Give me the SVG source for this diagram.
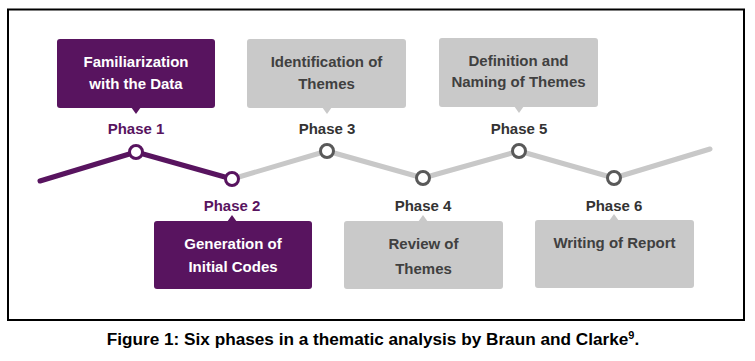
<svg xmlns="http://www.w3.org/2000/svg" width="755" height="361" viewBox="0 0 755 361">
<style>
.t{font-family:"Liberation Sans",Arial,sans-serif;font-weight:bold;font-size:15px;text-anchor:middle}
.cap{font-size:17.2px}
.pb{fill:#58145f}
.gb{fill:#c9c9c9}
.wt{fill:#ffffff}
.gt{fill:#404040}
.pl{fill:#58145f}
.dl{fill:#333333}
.pc{fill:#ffffff;stroke:#58145f;stroke-width:3}
.gc{fill:#ffffff;stroke:#595959;stroke-width:3}
.lp{fill:none;stroke:#58145f;stroke-width:5;stroke-linecap:round;stroke-linejoin:round}
.lg{fill:none;stroke:#c8c8c8;stroke-width:5;stroke-linecap:round;stroke-linejoin:round}
</style>
<rect x="0" y="0" width="755" height="361" fill="#ffffff"/>
<rect x="8" y="9.5" width="736" height="310.5" fill="none" stroke="#000000" stroke-width="2"/>
<g id="connectors">
<polyline class="lg" points="232,179 327,151 423,178 519,151 614,178 710,149"/>
<polyline class="lp" points="40,181 136,152 232,179"/>
</g>
<g id="phase1">
<rect class="pb" x="57" y="39" width="158" height="69" rx="3"/>
<polygon class="pb" points="131,107 141,107 136,114"/>
<text class="t wt" x="136" y="67">Familiarization</text>
<text class="t wt" x="136" y="89">with the Data</text>
<text class="t pl" x="136" y="133.5">Phase 1</text>
<circle class="pc" cx="136" cy="152" r="6.5"/>
</g>
<g id="phase2">
<rect class="pb" x="154" y="221" width="158" height="68" rx="3"/>
<polygon class="pb" points="227,222 237,222 232,215"/>
<text class="t wt" x="233" y="248.5">Generation of</text>
<text class="t wt" x="233" y="271.5">Initial Codes</text>
<text class="t pl" x="232" y="210.5">Phase 2</text>
<circle class="pc" cx="232" cy="179" r="6.5"/>
</g>
<g id="phase3">
<rect class="gb" x="247" y="39" width="159" height="69" rx="3"/>
<polygon class="gb" points="322,107 332,107 327,114"/>
<text class="t gt" x="326.5" y="67">Identification of</text>
<text class="t gt" x="326.5" y="89">Themes</text>
<text class="t dl" x="327" y="133.5">Phase 3</text>
<circle class="gc" cx="327" cy="151" r="6.5"/>
</g>
<g id="phase4">
<rect class="gb" x="344" y="221" width="159" height="68" rx="3"/>
<polygon class="gb" points="418,222 428,222 423,215"/>
<text class="t gt" x="423.5" y="248.5">Review of</text>
<text class="t gt" x="423.5" y="273.5">Themes</text>
<text class="t dl" x="423" y="210.5">Phase 4</text>
<circle class="gc" cx="423" cy="178" r="6.5"/>
</g>
<g id="phase5">
<rect class="gb" x="439" y="38" width="159" height="69" rx="3"/>
<polygon class="gb" points="514,106 524,106 519,113"/>
<text class="t gt" x="518.5" y="65.5">Definition and</text>
<text class="t gt" x="518.5" y="86.5">Naming of Themes</text>
<text class="t dl" x="519" y="133.5">Phase 5</text>
<circle class="gc" cx="519" cy="151" r="6.5"/>
</g>
<g id="phase6">
<rect class="gb" x="535" y="220" width="159" height="68" rx="3"/>
<polygon class="gb" points="609,221 619,221 614,214"/>
<text class="t gt" x="614.5" y="247.5">Writing of Report</text>
<text class="t dl" x="614" y="210.5">Phase 6</text>
<circle class="gc" cx="614" cy="178" r="6.5"/>
</g>
<text class="t cap" x="373" y="345" fill="#000000">Figure 1: Six phases in a thematic analysis by Braun and Clarke<tspan font-size="11" dy="-6">9</tspan><tspan dy="6">.</tspan></text>
</svg>
